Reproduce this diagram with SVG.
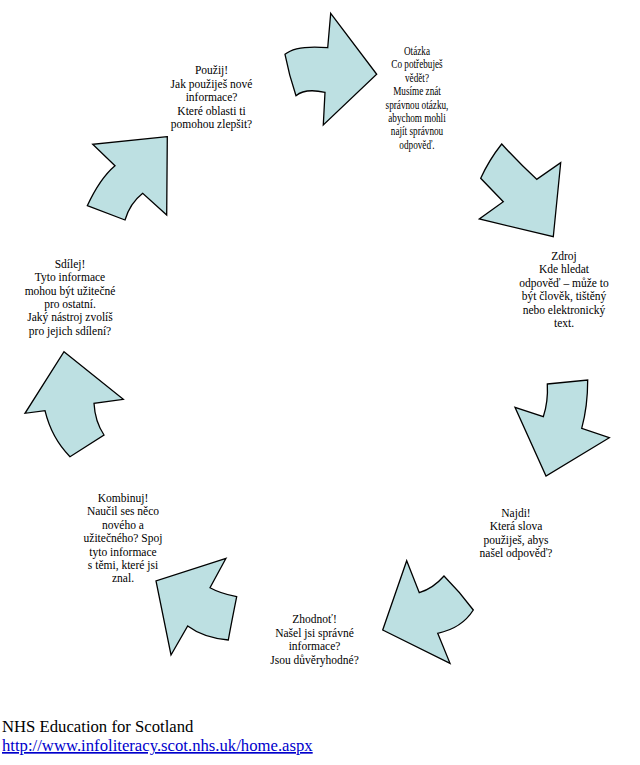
<svg xmlns="http://www.w3.org/2000/svg" width="640" height="765" viewBox="0 0 640 765">
<style>
.arrow{fill:#bde0e2;stroke:#000;stroke-width:1.3;stroke-linejoin:miter}
.t{font-family:"Liberation Serif","Times New Roman",serif;font-size:11.5px;fill:#000;text-anchor:middle}
.f{font-family:"Liberation Serif","Times New Roman",serif;font-size:16.7px;fill:#000}
.u{fill:#0000cc;text-decoration:underline}
</style>
<rect width="640" height="765" fill="#fff"/>
<g id="connectors">
<path id="arrow-1" class="arrow" d="M330.7,13.3 L376.7,74.3 L323.3,125 L325,92.3 Q305,88 296,95.7 Q289,75 285,54.3 Q296,45 327.7,47.7 Z"/>
<path id="arrow-2" class="arrow" d="M501.7,144 Q489,160 480.7,178.3 L503.3,201.7 L479.3,219 L553.3,236.7 L560.7,162.7 L536.7,179.3 Q519,163 501.7,144 Z"/>
<path id="arrow-3" class="arrow" d="M167.3,136.7 L92.7,144.3 L115,165.7 Q100,178.3 87.3,205.7 L125,220 Q130,203.3 142.7,193.3 L166.7,215 Z"/>
<path id="arrow-4" class="arrow" d="M64,351.7 L123.3,399.3 L94,403.3 Q95,421.7 104,435 L70,456.7 Q51.7,438.3 45,410.7 L25,413.3 Z"/>
<path id="arrow-5" class="arrow" d="M547.3,384 L587.7,380 Q587.7,406.7 581.7,428.3 L609.3,437.7 L546,476 L515,407.3 L543.3,416.7 Q548.3,401.7 547.3,384 Z"/>
<path id="arrow-6" class="arrow" d="M226,558.3 L210,587.7 Q220,593.3 236.7,596.7 Q232,620 228.3,640 Q203.3,637.7 187.7,626 L171,655 L156,581 Z"/>
<path id="arrow-7" class="arrow" d="M406.7,560.7 L419.3,592.7 Q433.3,588.3 444,576 Q460,592 473.3,610 Q461.7,628.3 437.7,633.3 L450,663.3 L382.7,630 Z"/>
</g>
<g id="node-otazka" class="t" transform="translate(417,0) scale(0.8,1)">
<text x="0" y="55">Otázka</text>
<text x="0" y="68.4">Co potřebuješ</text>
<text x="0" y="81.8">vědět?</text>
<text x="0" y="95.2">Musíme znát</text>
<text x="0" y="108.6">správnou otázku,</text>
<text x="0" y="122">abychom mohli</text>
<text x="0" y="135.4">najít správnou</text>
<text x="0" y="148.8">odpověď.</text>
</g>
<g id="node-zdroj" class="t">
<text x="564" y="260">Zdroj</text>
<text x="564" y="273.4">Kde hledat</text>
<text x="564" y="286.8">odpověď – může to</text>
<text x="564" y="300.2">být člověk, tištěný</text>
<text x="564" y="313.6">nebo elektronický</text>
<text x="564" y="327">text.</text>
</g>
<g id="node-najdi" class="t">
<text x="516" y="516.7">Najdi!</text>
<text x="516" y="530.1">Která slova</text>
<text x="516" y="543.5">použiješ, abys</text>
<text x="516" y="556.9">našel odpověď?</text>
</g>
<g id="node-zhodnot" class="t">
<text x="314.5" y="623">Zhodnoť!</text>
<text x="314.5" y="636.6">Našel jsi správné</text>
<text x="314.5" y="650.2">informace?</text>
<text x="314.5" y="663.8">Jsou důvěryhodné?</text>
</g>
<g id="node-kombinuj" class="t">
<text x="123" y="502">Kombinuj!</text>
<text x="123" y="515.4">Naučil ses něco</text>
<text x="123" y="528.8">nového a</text>
<text x="123" y="542.2">užitečného? Spoj</text>
<text x="123" y="555.6">tyto informace</text>
<text x="123" y="569">s těmi, které jsi</text>
<text x="123" y="582.4">znal.</text>
</g>
<g id="node-sdilej" class="t">
<text x="70" y="267.7">Sdílej!</text>
<text x="70" y="281.1">Tyto informace</text>
<text x="70" y="294.5">mohou být užitečné</text>
<text x="70" y="307.9">pro ostatní.</text>
<text x="70" y="321.3">Jaký nástroj zvolíš</text>
<text x="70" y="334.7">pro jejich sdílení?</text>
</g>
<g id="node-pouzij" class="t">
<text x="211.5" y="74.3">Použij!</text>
<text x="211.5" y="87.7">Jak použiješ nové</text>
<text x="211.5" y="101.1">informace?</text>
<text x="211.5" y="114.5">Které oblasti ti</text>
<text x="211.5" y="127.9">pomohou zlepšit?</text>
</g>
<g id="footer">
<text class="f" x="2" y="732">NHS Education for Scotland</text>
<text class="f u" x="2" y="751">http://www.infoliteracy.scot.nhs.uk/home.aspx</text>
</g>
</svg>
